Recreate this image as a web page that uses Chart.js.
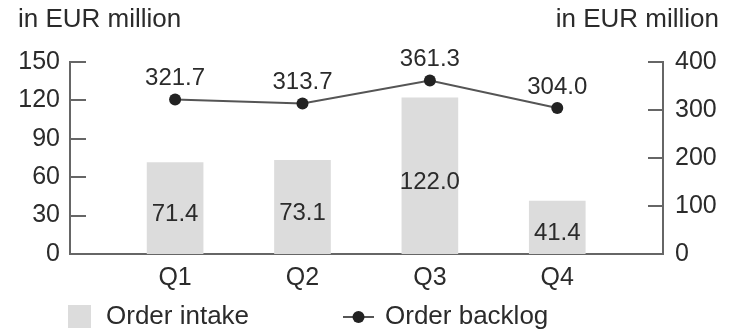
<!DOCTYPE html>
<html>
<head>
<meta charset="utf-8">
<script src="https://cdn.jsdelivr.net/npm/chart.js@4/dist/chart.umd.min.js"></script>
<style>
  html, body { margin: 0; padding: 0; background: #fff; }
  #wrap { width: 733px; height: 330px; position: relative; }
</style>
</head>
<body>
<div id="wrap"><canvas id="myChart"></canvas></div>
<script>
const quarters = ['Q1', 'Q2', 'Q3', 'Q4'];
const orderIntake = [71.4, 73.1, 122.0, 41.4];
const orderBacklog = [321.7, 313.7, 361.3, 304.0];
const leftTicks = [0, 30, 60, 90, 120, 150];
const rightTicks = [0, 100, 200, 300, 400];
const unitLabel = 'in EUR million';

const FONT = "'Liberation Sans', Arial, sans-serif";
const TEXT = '#2b2b2b';
const AXIS = '#666';
const BAR = '#dcdcdc';

Chart.defaults.font.family = FONT;
Chart.defaults.color = TEXT;

const ctx = document.querySelector('#myChart').getContext('2d');

// small inward tick marks on both value axes
const tickMarks = {
  id: 'tickMarks',
  afterDraw(chart) {
    const { ctx, chartArea } = chart;
    ctx.save();
    ctx.strokeStyle = AXIS;
    ctx.lineWidth = 2;
    leftTicks.forEach(v => {
      const y = Math.round(chart.scales.y.getPixelForValue(v));
      ctx.beginPath();
      ctx.moveTo(chartArea.left, y);
      ctx.lineTo(chartArea.left + 16, y);
      ctx.stroke();
    });
    rightTicks.forEach(v => {
      const y = Math.round(chart.scales.y1.getPixelForValue(v));
      ctx.beginPath();
      ctx.moveTo(chartArea.right - 15, y);
      ctx.lineTo(chartArea.right, y);
      ctx.stroke();
    });
    ctx.restore();
  }
};

// value labels: inside the bars and above the line points
const valueLabels = {
  id: 'valueLabels',
  afterDatasetsDraw(chart) {
    const { ctx } = chart;
    ctx.save();
    ctx.fillStyle = TEXT;
    ctx.font = '24px ' + FONT;
    ctx.textAlign = 'center';
    ctx.textBaseline = 'middle';
    chart.getDatasetMeta(1).data.forEach((bar, i) => {
      const y = (bar.y + bar.base) / 2 + 6;
      ctx.fillText(orderIntake[i].toFixed(1), bar.x, y);
    });
    chart.getDatasetMeta(0).data.forEach((pt, i) => {
      ctx.fillText(orderBacklog[i].toFixed(1), pt.x, pt.y - 21);
    });
    ctx.restore();
  }
};

// unit titles and legend
const extras = {
  id: 'extras',
  afterDraw(chart) {
    const { ctx } = chart;
    ctx.save();
    ctx.fillStyle = TEXT;
    ctx.font = '26px ' + FONT;
    ctx.textBaseline = 'middle';
    ctx.textAlign = 'left';
    ctx.fillText(unitLabel, 18, 20);
    ctx.textAlign = 'right';
    ctx.fillText(unitLabel, 719, 20);

    const ly = 317;
    ctx.fillStyle = BAR;
    ctx.fillRect(68, ly - 12, 23, 23);
    ctx.fillStyle = TEXT;
    ctx.textAlign = 'left';
    ctx.fillText('Order intake', 106, ly);

    ctx.strokeStyle = '#555';
    ctx.lineWidth = 2;
    ctx.beginPath();
    ctx.moveTo(343, ly);
    ctx.lineTo(374, ly);
    ctx.stroke();
    ctx.fillStyle = '#222';
    ctx.beginPath();
    ctx.arc(358.5, ly, 6, 0, Math.PI * 2);
    ctx.fill();
    ctx.fillStyle = TEXT;
    ctx.fillText('Order backlog', 385, ly);
    ctx.restore();
  }
};

const data = {
  datasets: [{
    type: 'line',
    label: 'Order backlog',
    data: orderBacklog.map((v, i) => ({ x: i, y: v })),
    yAxisID: 'y1',
    borderColor: '#555',
    borderWidth: 2,
    pointRadius: 6,
    pointBorderWidth: 0,
    pointBackgroundColor: '#222',
    order: 0,
  }, {
    type: 'bar',
    label: 'Order intake',
    data: orderIntake.map((v, i) => ({ x: i, y: v })),
    yAxisID: 'y',
    backgroundColor: BAR,
    barThickness: 56,
    order: 1,
  }]
};

const config = {
  data: data,
  options: {
    responsive: true,
    maintainAspectRatio: false,
    animation: false,
    layout: { padding: { top: 62, left: 0, right: 0, bottom: 0 } },
    plugins: {
      legend: { display: false },
      tooltip: { enabled: false },
    },
    scales: {
      x: {
        type: 'linear',
        offset: false,
        bounds: 'data',
        min: -0.825,
        max: 3.83,
        afterBuildTicks: (s) => { s.ticks = quarters.map((q, i) => ({ value: i })); },
        afterFit: (s) => { s.height = 76; },
        grid: { display: false, offset: false },
        border: { color: AXIS, width: 2 },
        ticks: {
          padding: 1,
          font: { size: 25 },
          color: TEXT,
          callback: (v) => quarters[v],
        }
      },
      y: {
        position: 'left',
        min: 0,
        max: 150,
        afterBuildTicks: (s) => { s.ticks = leftTicks.map(v => ({ value: v })); },
        afterFit: (s) => { s.width = 70; },
        grid: { display: false },
        border: { color: AXIS, width: 2 },
        ticks: { padding: 2, font: { size: 25 }, color: TEXT }
      },
      y1: {
        position: 'right',
        min: 0,
        max: 400,
        afterBuildTicks: (s) => { s.ticks = rightTicks.map(v => ({ value: v })); },
        afterFit: (s) => { s.width = 70; },
        grid: { display: false },
        border: { color: AXIS, width: 2 },
        ticks: { padding: 4, font: { size: 25 }, color: TEXT }
      }
    }
  },
  plugins: [tickMarks, valueLabels, extras]
};

const myChart = new Chart(ctx, config);
</script>
</body>
</html>
